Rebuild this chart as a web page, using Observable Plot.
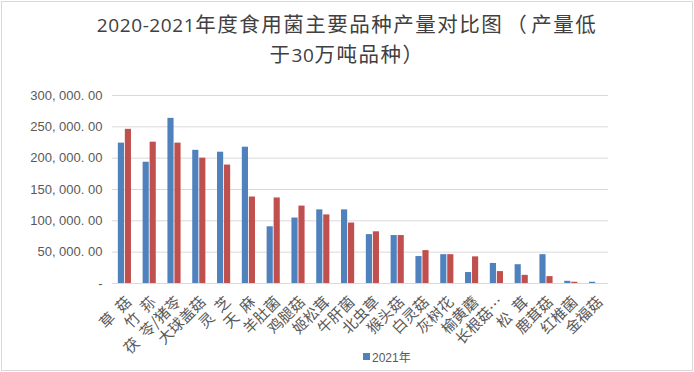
<!DOCTYPE html>
<html><head><meta charset="utf-8">
<script src="https://cdn.jsdelivr.net/npm/d3@7"></script>
<script src="https://cdn.jsdelivr.net/npm/@observablehq/plot@0.6"></script>
<style>
body{margin:0;background:#fff;}
#chart{position:relative;width:694px;height:372px;overflow:hidden;background:#fff;}
#frame{position:absolute;left:1px;top:1px;width:690px;height:368px;border:1px solid #d9d9d9;pointer-events:none;}
#title{position:absolute;left:0;top:10px;width:694px;text-align:center;font-family:"Noto Sans CJK SC",sans-serif;font-size:20.5px;line-height:27.5px;color:#404040;letter-spacing:1.5px;}
#title .n{font-family:"Open Sans",sans-serif;font-size:19px;letter-spacing:0.6px;}
#title .p{margin:0 3px;}
#plot{position:absolute;left:0;top:70px;}
#plot svg g[aria-label="x-axis tick label"] text{word-spacing:4px;}
#legend{position:absolute;left:363px;top:348px;font-family:"Liberation Sans","Noto Sans CJK SC",sans-serif;font-size:12px;color:#595959;display:flex;align-items:center;}
#legend i{display:inline-block;width:7px;height:7px;margin-right:2px;}
</style>
</head><body>
<div id="chart">
  <div id="title"><span class="n">2020-2021</span>年度食用菌主要品种产量对比图<span class="p">（</span>产量低<br>于<span class="n">30</span>万吨品种）</div>
  <div id="plot"></div>
  <div id="legend"></div>
  <div id="frame"></div>
</div>
<script>
const categories = ["草 菇","竹 荪","茯 苓/猪苓","大球盖菇","灵 芝","天 麻","羊肚菌","鸡腿菇","姬松茸","牛肝菌","北虫草","猴头菇","白灵菇","灰树花","榆黄蘑","长根菇…","松 茸","鹿茸菇","红椎菌","金福菇"];
const series2021 = [224000,193500,263500,212500,209500,217500,90500,104500,117500,117500,78000,76500,43000,46000,17500,32000,30000,46000,3500,2000];
const series2020 = [246000,225500,224000,200000,189000,138000,136500,123500,109500,96500,82500,76500,52500,46000,42500,19000,13000,11000,2000,0];
const yTicks = [0,50000,100000,150000,200000,250000,300000];
const seriesNames = ["2021年","2020年"];
const seriesColors = ["#4F81BD","#C0504D"];

const rows2021 = categories.map((c,i)=>({cat:c, v:series2021[i]}));
const rows2020 = categories.map((c,i)=>({cat:c, v:series2020[i]}));

const fmt = d => d === 0 ? "-" : d3.format(",.2f")(d).replace(/,/g, ", ").replace(".", ". ");

const plot = Plot.plot({
  width: 694,
  height: 302,
  marginLeft: 112,
  marginRight: 86,
  marginTop: 25,
  marginBottom: 89,
  style: {background: "transparent", fontFamily: "'Noto Sans CJK SC', sans-serif", fontSize: "14px", color: "#595959"},
  x: {domain: categories, paddingInner: 0.47, paddingOuter: 0.235, round: false},
  y: {domain: [0, 300000]},
  marks: [
    Plot.ruleY(yTicks, {y: d => d, stroke: "#d9d9d9", strokeWidth: 1}),
    Plot.barY(rows2021, {x: "cat", y: "v", fill: seriesColors[0], insetRight: 7}),
    Plot.barY(rows2020, {x: "cat", y: "v", fill: seriesColors[1], insetLeft: 7}),
    Plot.axisY(yTicks, {tickSize: 0, tickPadding: 10, tickFormat: fmt, fontFamily: "'Liberation Sans', sans-serif", fontSize: 13, color: "#595959", label: null}),
    Plot.axisX({tickSize: 0, tickPadding: 16, dx: 4, tickRotate: -45, fontSize: 15, color: "#595959", label: null})
  ]
});
document.getElementById("plot").appendChild(plot);

const legend = document.getElementById("legend");
legend.innerHTML = `<i style="background:${seriesColors[0]}"></i><span>${seriesNames[0]}</span>`;
</script>
</body></html>
